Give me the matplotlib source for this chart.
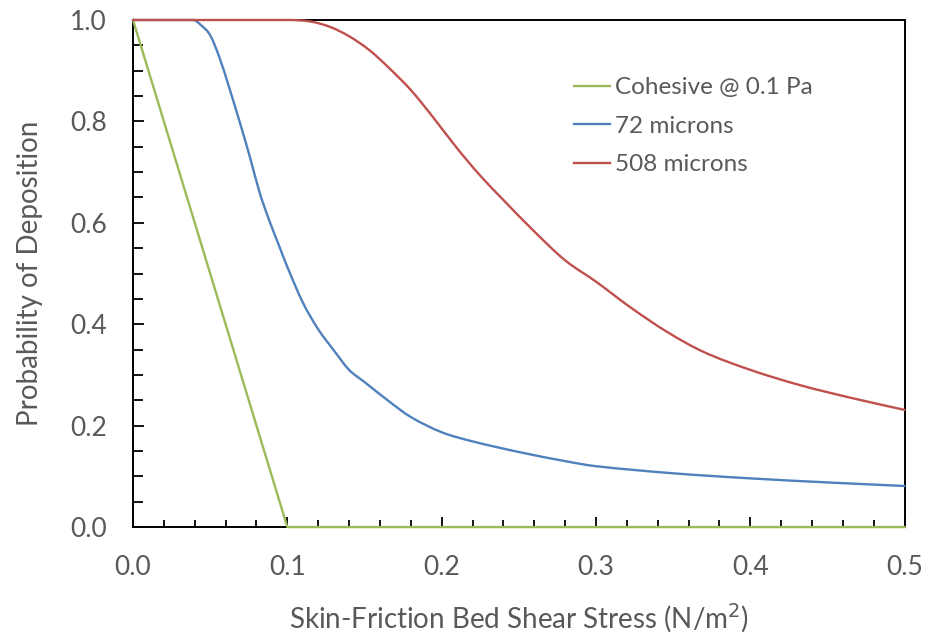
## deposition probability curves: recreated figure
import matplotlib
matplotlib.use('Agg')
from matplotlib import pyplot as plt
from matplotlib.ticker import MultipleLocator
from matplotlib.path import Path
from matplotlib.patches import PathPatch
from matplotlib.lines import Line2D

# -----------------------------------------------------------------------------
# data
coh_x = [0.0, 0.1, 0.5]
coh_y = [1.0, 0.0, 0.0]

m72_x = [0.0, 0.039, 0.044, 0.05, 0.056, 0.062, 0.07, 0.076, 0.082, 0.088,
         0.095, 0.1, 0.11, 0.12, 0.13, 0.14, 0.15, 0.165, 0.18, 0.2,
         0.22, 0.25, 0.28, 0.3, 0.35, 0.4, 0.45, 0.5]
m72_y = [1.0, 1.0, 0.99, 0.97, 0.926, 0.87, 0.79, 0.727, 0.66, 0.607,
         0.552, 0.513, 0.443, 0.39, 0.349, 0.310, 0.286, 0.25, 0.217, 0.187,
         0.169, 0.148, 0.13, 0.12, 0.106, 0.096, 0.088, 0.081]

m508_x = [0.0, 0.1, 0.115, 0.128, 0.14, 0.153, 0.165, 0.18, 0.195, 0.21,
          0.225, 0.24, 0.26, 0.28, 0.3, 0.322, 0.346, 0.37, 0.4, 0.432,
          0.465, 0.5]
m508_y = [1.0, 1.0, 0.997, 0.986, 0.968, 0.941, 0.908, 0.862, 0.806, 0.747,
          0.693, 0.645, 0.583, 0.526, 0.484, 0.434, 0.385, 0.345, 0.31, 0.28,
          0.255, 0.231]

labels = ['Cohesive @ 0.1 Pa', '72 microns', '508 microns']
colors = ['#9BBB59', '#4F81BD', '#C0504D']


def smooth_path(xs, ys):
    ''' cubic hermite bezier through the points (a smoothed line, no extra data) '''
    n = len(xs)
    slp = []
    for i in range(n):
        i0, i1 = max(i - 1, 0), min(i + 1, n - 1)
        if i > 0 and ys[i-1] == ys[i]:
            slp.append(0.)
        else:
            slp.append((ys[i1] - ys[i0]) / (xs[i1] - xs[i0]))
    verts, codes = [(xs[0], ys[0])], [Path.MOVETO]
    for i in range(n - 1):
        h = xs[i+1] - xs[i]
        c1 = (xs[i] + h/3, ys[i] + slp[i]*h/3)
        c2 = (xs[i+1] - h/3, ys[i+1] - slp[i+1]*h/3)
        verts += [c1, c2, (xs[i+1], ys[i+1])]
        codes += [Path.CURVE4] * 3
    return Path(verts, codes)


# -----------------------------------------------------------------------------
plt.rcParams['font.family'] = ['Lato', 'DejaVu Sans']
txtclr = '#595959'
lw = 1.7

fig = plt.figure(figsize=(9.25, 6.35), dpi=100)
ax = fig.add_axes([0.1438, 0.170, 0.8342, 0.7985])

ax.plot(coh_x, coh_y, color=colors[0], linewidth=lw, clip_on=False, zorder=3)
for xs, ys, clr in zip([m72_x, m508_x], [m72_y, m508_y], colors[1:]):
    ptc = PathPatch(smooth_path(xs, ys), fill=False, edgecolor=clr, linewidth=lw,
                    capstyle='round', clip_on=False, zorder=3)
    ax.add_patch(ptc)

ax.set_xlim(0, 0.5)
ax.set_ylim(0, 1.0)
ax.xaxis.set_major_locator(MultipleLocator(0.1))
ax.xaxis.set_minor_locator(MultipleLocator(0.02))
ax.yaxis.set_major_locator(MultipleLocator(0.2))
ax.yaxis.set_minor_locator(MultipleLocator(0.05))
ax.xaxis.set_major_formatter(lambda v, p: f'{v:.1f}')
ax.yaxis.set_major_formatter(lambda v, p: f'{v:.1f}')

ax.tick_params(which='both', direction='in', colors='black', labelcolor=txtclr,
               labelsize=19, width=1.3)
ax.tick_params(axis='x', which='major', length=7, pad=20)
ax.tick_params(axis='x', which='minor', length=5)
ax.tick_params(axis='y', which='major', length=8, pad=19)
ax.tick_params(axis='y', which='minor', length=7)
for sp in ax.spines.values():
    sp.set_linewidth(1.4)
    sp.set_color('black')

ax.set_xlabel('Skin-Friction Bed Shear Stress (N/m$^2$)', fontsize=20, color=txtclr, labelpad=16)
ax.set_ylabel('Probability of Deposition', fontsize=20, color=txtclr, labelpad=19)

hnds = [Line2D([], [], color=c, linewidth=lw) for c in colors]
ax.legend(hnds, labels, loc='upper left', bbox_to_anchor=(0.543, 0.93), frameon=False,
          fontsize=17.5, handlelength=1.5, handletextpad=0.2, labelspacing=0.72,
          labelcolor=txtclr)

fig.savefig('out.png', dpi=100)
